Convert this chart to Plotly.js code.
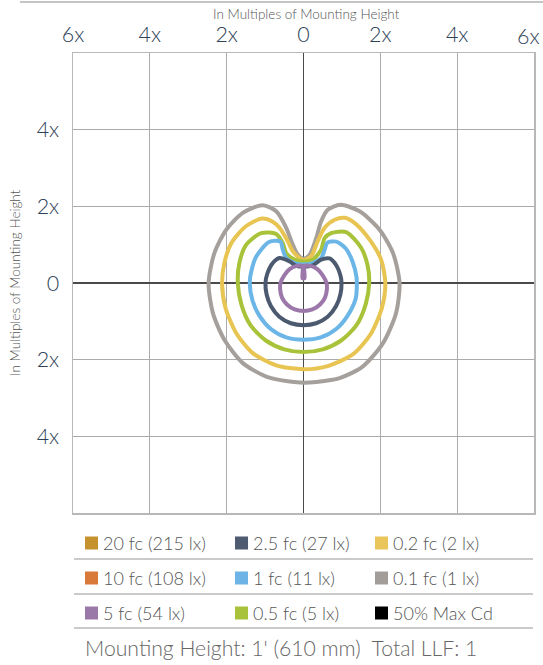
<!DOCTYPE html>
<html><head><meta charset="utf-8">
<script src="https://cdn.plot.ly/plotly-3.0.1.min.js"></script>
<style>html,body{margin:0;padding:0;background:#fff}#chart{width:543px;height:665px}</style>
</head><body><div id="chart"></div>
<script>
// Axis ticks
const xTickVals = [-6, -4, -2, 0, 2, 4, 6];
const xTickText = ['6x', '4x', '2x', '0', '2x', '4x', '6x'];
const yTickVals = [-4, -2, 0, 2, 4];
const yTickText = ['4x', '2x', '0', '2x', '4x'];
const axisTitle = 'In Multiples of Mounting Height';

// Isofootcandle contours (multiples of mounting height)
const fc01X = [0, 0.16, 0.33, 0.46, 0.63, 0.96, 1.46, 1.98, 2.33, 2.5, 2.41, 2.07, 1.54, 0.94, 0.33, 0, -0.36, -0.97, -1.58, -2.06, -2.36, -2.47, -2.32, -2.01, -1.58, -1.06, -0.71, -0.45, -0.28, -0.15, 0];
const fc01Y = [0.63, 0.74, 1.17, 1.61, 1.91, 2.04, 1.87, 1.39, 0.78, 0, -0.78, -1.57, -2.18, -2.48, -2.58, -2.6, -2.57, -2.44, -2.09, -1.48, -0.78, 0, 0.78, 1.39, 1.83, 2.03, 1.87, 1.44, 1.0, 0.74, 0.63];

const fc02X = [0, 0.2, 0.37, 0.55, 0.81, 1.08, 1.35, 1.72, 2.02, 2.13, 2.04, 1.75, 1.3, 0.65, 0, -0.71, -1.32, -1.75, -2.03, -2.12, -2.06, -1.88, -1.5, -1.08, -0.8, -0.625, -0.41, -0.28, -0.1, 0];
const fc02Y = [0.6, 0.7, 1.09, 1.44, 1.65, 1.7, 1.55, 1.13, 0.61, 0, -0.65, -1.33, -1.85, -2.16, -2.25, -2.15, -1.83, -1.31, -0.65, 0, 0.52, 1.04, 1.48, 1.68, 1.6, 1.44, 1.09, 0.83, 0.65, 0.6];

const fc05X = [0, 0.24, 0.46, 0.55, 0.72, 1.11, 1.5, 1.67, 1.71, 1.62, 1.38, 0.98, 0.5, 0, -0.5, -0.98, -1.38, -1.62, -1.71, -1.67, -1.49, -1.1, -0.71, -0.54, -0.45, -0.23, 0];
const fc05Y = [0.56, 0.61, 0.87, 1.17, 1.3, 1.33, 0.92, 0.45, 0, -0.55, -1.1, -1.5, -1.73, -1.8, -1.73, -1.5, -1.1, -0.55, 0, 0.52, 1.0, 1.3, 1.28, 1.04, 0.78, 0.61, 0.56];

const fc1X = [0, 0.24, 0.46, 0.55, 0.62, 0.85, 1.1, 1.28, 1.38, 1.36, 1.15, 0.85, 0.45, 0, -0.45, -0.85, -1.15, -1.33, -1.4, -1.36, -1.23, -0.9, -0.6, -0.54, -0.45, -0.23, 0];
const fc1Y = [0.48, 0.52, 0.65, 0.87, 1.05, 1.08, 0.9, 0.55, 0.15, -0.4, -0.85, -1.2, -1.42, -1.48, -1.42, -1.2, -0.85, -0.45, 0, 0.3, 0.69, 1.07, 1.08, 0.87, 0.65, 0.52, 0.48];

const fc25X = [0, 0.24, 0.46, 0.68, 0.86, 0.96, 0.99, 0.96, 0.85, 0.63, 0.33, 0, -0.33, -0.63, -0.85, -0.96, -0.99, -0.94, -0.8, -0.625, -0.36, -0.19, 0];
const fc25Y = [0.43, 0.46, 0.61, 0.64, 0.45, 0.2, 0, -0.3, -0.6, -0.88, -1.05, -1.1, -1.05, -0.88, -0.6, -0.3, 0, 0.25, 0.52, 0.65, 0.56, 0.45, 0.43];

const fc5X = [0.03, 0.2, 0.36, 0.5, 0.6, 0.61, 0.56, 0.43, 0.23, 0, -0.23, -0.43, -0.56, -0.61, -0.6, -0.5, -0.36, -0.2, -0.03, -0.025, 0.025, 0.03];
const fc5Y = [0.44, 0.44, 0.36, 0.2, 0, -0.15, -0.38, -0.56, -0.69, -0.73, -0.69, -0.56, -0.38, -0.15, 0, 0.2, 0.36, 0.44, 0.44, 0.12, 0.12, 0.44];

const contourColors = ['#a5a09c', '#e8c552', '#a8c23a', '#6cb6e7', '#4c5a70', '#9c78aa'];

// Legend
const legendLabels = ['20 fc (215 lx)', '2.5 fc (27 lx)', '0.2 fc (2 lx)',
                      '10 fc (108 lx)', '1 fc (11 lx)', '0.1 fc (1 lx)',
                      '5 fc (54 lx)', '0.5 fc (5 lx)', '50% Max Cd'];
const legendColors = ['#c6922e', '#4e5b70', '#e9c55a',
                      '#d9793a', '#6db3e5', '#a29d99',
                      '#9a78a8', '#a8c23b', '#000000'];
const footerText = "Mounting Height: 1' (610 mm)  Total LLF: 1";

const contours = [[fc01X, fc01Y], [fc02X, fc02Y], [fc05X, fc05Y], [fc1X, fc1Y], [fc25X, fc25Y], [fc5X, fc5Y]];
const traces = contours.map((c, i) => ({
  type: 'scatter', mode: 'lines', x: c[0], y: c[1],
  line: {color: contourColors[i], width: 4, shape: 'spline', smoothing: 0.75},
  hoverinfo: 'skip', showlegend: false
}));

const W = 543, H = 665, ML = 73, MR = 9, MT = 53, MB = 152;
const PW = W - ML - MR, PH = H - MT - MB;
const px = v => (v - ML) / PW;
const py = v => (H - MB - v) / PH;

const font = 'Lato, "Open Sans", sans-serif';
const shapes = [
  {type: 'line', xref: 'paper', yref: 'paper', x0: px(20), x1: px(543), y0: py(2), y1: py(2), line: {color: '#b0b0b0', width: 1.5}},
  {type: 'line', xref: 'paper', yref: 'paper', x0: px(74), x1: px(533), y0: py(559), y1: py(559), line: {color: '#b8b8b8', width: 1.5}},
  {type: 'line', xref: 'paper', yref: 'paper', x0: px(74), x1: px(533), y0: py(594), y1: py(594), line: {color: '#b8b8b8', width: 1.5}},
  {type: 'line', xref: 'paper', yref: 'paper', x0: px(74), x1: px(533), y0: py(628), y1: py(628), line: {color: '#b8b8b8', width: 1.5}}
];
const annotations = [];
const colSq = [85, 235, 375], colTx = [103, 253, 393], rowY = [543, 578, 613];
legendLabels.forEach((lab, i) => {
  const r = Math.floor(i / 3), c = i % 3;
  shapes.push({type: 'rect', xref: 'paper', yref: 'paper', x0: px(colSq[c]), x1: px(colSq[c] + 13),
    y0: py(rowY[r] - 6.5), y1: py(rowY[r] + 6.5), fillcolor: legendColors[i], line: {width: 0}});
  annotations.push({xref: 'paper', yref: 'paper', x: px(colTx[c] - 2), y: py(rowY[r]), xanchor: 'left', yanchor: 'middle',
    text: lab, showarrow: false, font: {family: font, size: 18, weight: 300, color: '#555'}});
});
annotations.push({xref: 'paper', yref: 'paper', x: px(83), y: py(648), xanchor: 'left', yanchor: 'middle',
  text: footerText, showarrow: false, font: {family: font, size: 21.2, weight: 300, color: '#666'}});
// top axis title and the right-most tick label (kept inside the window)
annotations.push({xref: 'paper', yref: 'paper', x: px(306), y: py(14), xanchor: 'center', yanchor: 'middle',
  text: axisTitle, showarrow: false, font: {family: font, size: 13.5, weight: 300, color: '#555'}});
annotations.push({xref: 'paper', yref: 'paper', x: px(528), y: py(36), xanchor: 'center', yanchor: 'middle',
  text: xTickText[6], showarrow: false, font: {family: font, size: 21.5, weight: 300, color: '#2e4257'}});
// left axis title (rotated)
annotations.push({xref: 'paper', yref: 'paper', x: px(15), y: py(283), xanchor: 'center', yanchor: 'middle', textangle: -90,
  text: axisTitle, showarrow: false, font: {family: font, size: 13.5, weight: 300, color: '#555'}});

const axisCommon = {
  range: [-6, 6], showgrid: true, gridcolor: '#ababab', gridwidth: 1.3,
  zeroline: true, zerolinecolor: '#4a4a4a', zerolinewidth: 1.3,
  showline: true, linecolor: '#b8b8b8', linewidth: 1.5, mirror: true,
  ticks: '', tickfont: {family: font, size: 21.5, weight: 300, color: '#2e4257'}, fixedrange: true
};
const layout = {
  width: W, height: H, margin: {l: ML, r: MR, t: MT, b: MB},
  paper_bgcolor: '#fff', plot_bgcolor: '#fff', showlegend: false,
  xaxis: Object.assign({}, axisCommon, {side: 'top', tickvals: xTickVals.slice(0, 6), ticktext: xTickText.slice(0, 6), ticklabelstandoff: 1}),
  yaxis: Object.assign({}, axisCommon, {tickvals: yTickVals, ticktext: yTickText, ticklabelstandoff: 8}),
  shapes: shapes, annotations: annotations
};
Plotly.newPlot('chart', traces, layout, {displayModeBar: false, staticPlot: true});
</script></body></html>
